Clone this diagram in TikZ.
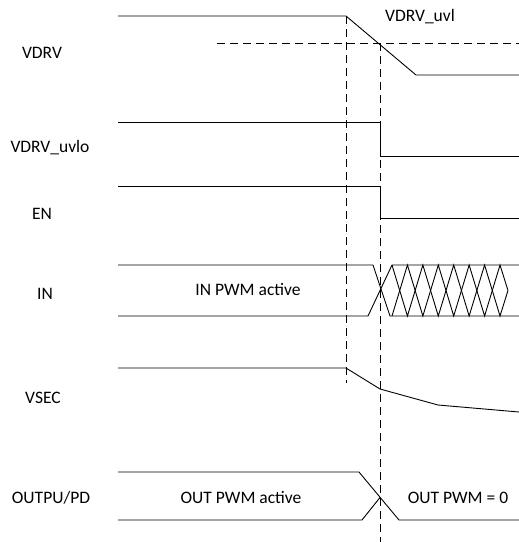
\documentclass[tikz,border=0pt]{standalone}
\usepackage{fontspec}
\setmainfont{Carlito}
\begin{document}
\begin{tikzpicture}[x=1pt,y=-1pt,
  sig/.style={line width=0.9pt},
  guide/.style={line width=0.9pt, dash pattern=on 8pt off 5pt},
  lbl/.style={font=\fontsize{17.5}{20}\selectfont, inner sep=0pt, anchor=base}]
\useasboundingbox (0,0) rectangle (519,542);
% guide coordinates
\coordinate (t1top) at (346,16);
\coordinate (t1bot) at (346,383);
\coordinate (t2top) at (380,43);
\coordinate (t2bot) at (380,542);
\coordinate (uvlA) at (217,43);
\coordinate (uvlB) at (519,43);
% dashed guides
\draw[guide] (uvlA) -- (uvlB);
\draw[guide] (t1top) -- (t1bot);
\draw[guide] (t2top) -- (t2bot);
% labels
\node[lbl] (lVDRV) at (42,58) {VDRV};
\node[lbl] (lUVLO) at (50,152) {VDRV\_uvlo};
\node[lbl] (lEN) at (42,219) {EN};
\node[lbl] (lIN) at (45,299) {IN};
\node[lbl] (lVSEC) at (43,403) {VSEC};
\node[lbl] (lOUT) at (51,503) {OUTPU/PD};
\node[lbl] (lUVL) at (420,21) {VDRV\_uvl};
\node[lbl] (lINact) at (248,295) {IN PWM active};
\node[lbl] (lOUTact) at (241,503) {OUT PWM active};
\node[lbl] (lOUT0) at (458,503) {OUT PWM = 0};
% VDRV
\draw[sig] (118,16) -- (346,16) -- (416,75) -- (519,75);
% VDRV_uvlo
\draw[sig] (118,122) -- (380,122) -- (380,156) -- (519,156);
% EN
\draw[sig] (118,186) -- (380,186) -- (380,218) -- (519,218);
% IN
\draw[sig] (118,265) -- (373,265) -- (390,316) -- (519,316);
\draw[sig] (118,316) -- (368,316) -- (392,265) -- (519,265);
\draw[sig] (392,265)
  \foreach \k in {1,...,7} {
    -- ({392+15.43*\k},{mod(\k,2)==1 ? 316 : 265})
  } -- (508,290.5);
\draw[sig] (392,316)
  \foreach \k in {1,...,7} {
    -- ({392+15.43*\k},{mod(\k,2)==1 ? 265 : 316})
  } -- (508,290.5);
% VSEC
\draw[sig] (118,368) -- (346,368) -- (380,389) -- (438,405) -- (519,412);
% OUTPUT/PD
\draw[sig] (118,472) -- (359,472) -- (399,520) -- (519,520);
\draw[sig] (118,520) -- (362,520) -- (380,497.5);
\end{tikzpicture}
\end{document}
